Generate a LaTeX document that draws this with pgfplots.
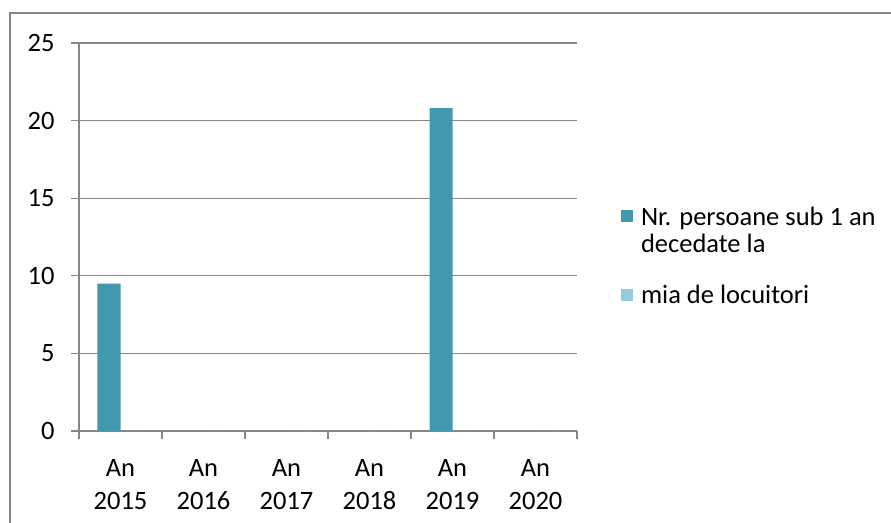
\documentclass[border=0pt]{standalone}
\usepackage{fontspec}
\setmainfont{Carlito}
\usepackage{pgfplots}
\pgfplotsset{compat=1.18}
\definecolor{barA}{RGB}{65,152,175}
\definecolor{barB}{RGB}{147,205,221}
\definecolor{gridc}{RGB}{134,134,134}
\begin{document}
\begin{tikzpicture}[x=1bp,y=1bp]
\useasboundingbox (-79,-92) rectangle (812,431);
\draw[gridc, line width=1.3bp] (-69,-120) -- (-69,418) -- (850,418);
\begin{axis}[
    at={(0,0)}, anchor=south west,
    scale only axis,
    width=498bp, height=388bp,
    xmin=-0.5, xmax=5.5,
    ymin=0, ymax=25,
    axis x line*=bottom, axis y line*=left,
    axis line style={gridc, line width=1.3bp},
    ytick={0,5,...,25},
    ymajorgrids,
    grid style={gridc, line width=1.3bp},
    xtick={0,...,5},
    xticklabels={{An\\2015},{An\\2016},{An\\2017},{An\\2018},{An\\2019},{An\\2020}},
    minor xtick={-0.5,0.5,...,5.5},
    major x tick style={draw=none},
    tick align=outside,
    major tick length=8bp, minor tick length=8bp,
    tick style={gridc, line width=1.3bp},
    tick label style={font=\fontsize{26.5bp}{32.7bp}\selectfont},
    xticklabel style={align=center, yshift=-17bp},
    yticklabel style={xshift=-13bp},
    /pgf/number format/assume math mode=true,
    legend style={at={(1.088,0.577)}, anchor=north west, draw=none, fill=none,
        inner sep=0pt, column sep=8bp, row sep=31bp,
        nodes={inner sep=0pt, align=left},
        font=\fontsize{26.5bp}{27bp}\selectfont},
    legend cell align=left,
]
% first series: square sits beside the first line of its two-line entry
\addplot[ybar, bar width=23bp, bar shift=-11.5bp, fill=barA, draw=none,
    legend image code/.code={\path[fill=none, draw=none, use as bounding box] (0bp,-21bp) rectangle (12bp,21bp);
        \path[fill=barA] (0bp,9bp) rectangle (12bp,21bp);}]
    coordinates {(0,9.5) (1,0) (2,0) (3,0) (4,20.8) (5,0)};
\addlegendentry{Nr. persoane sub 1 an\\decedate la}
\addplot[ybar, bar width=23bp, bar shift=11.5bp, fill=barB, draw=none,
    legend image code/.code={\path[fill=barB] (0bp,-6bp) rectangle (12bp,6bp);}]
    coordinates {(0,0) (1,0) (2,0) (3,0) (4,0) (5,0)};
\addlegendentry{mia de locuitori}
\end{axis}
\end{tikzpicture}
\end{document}
